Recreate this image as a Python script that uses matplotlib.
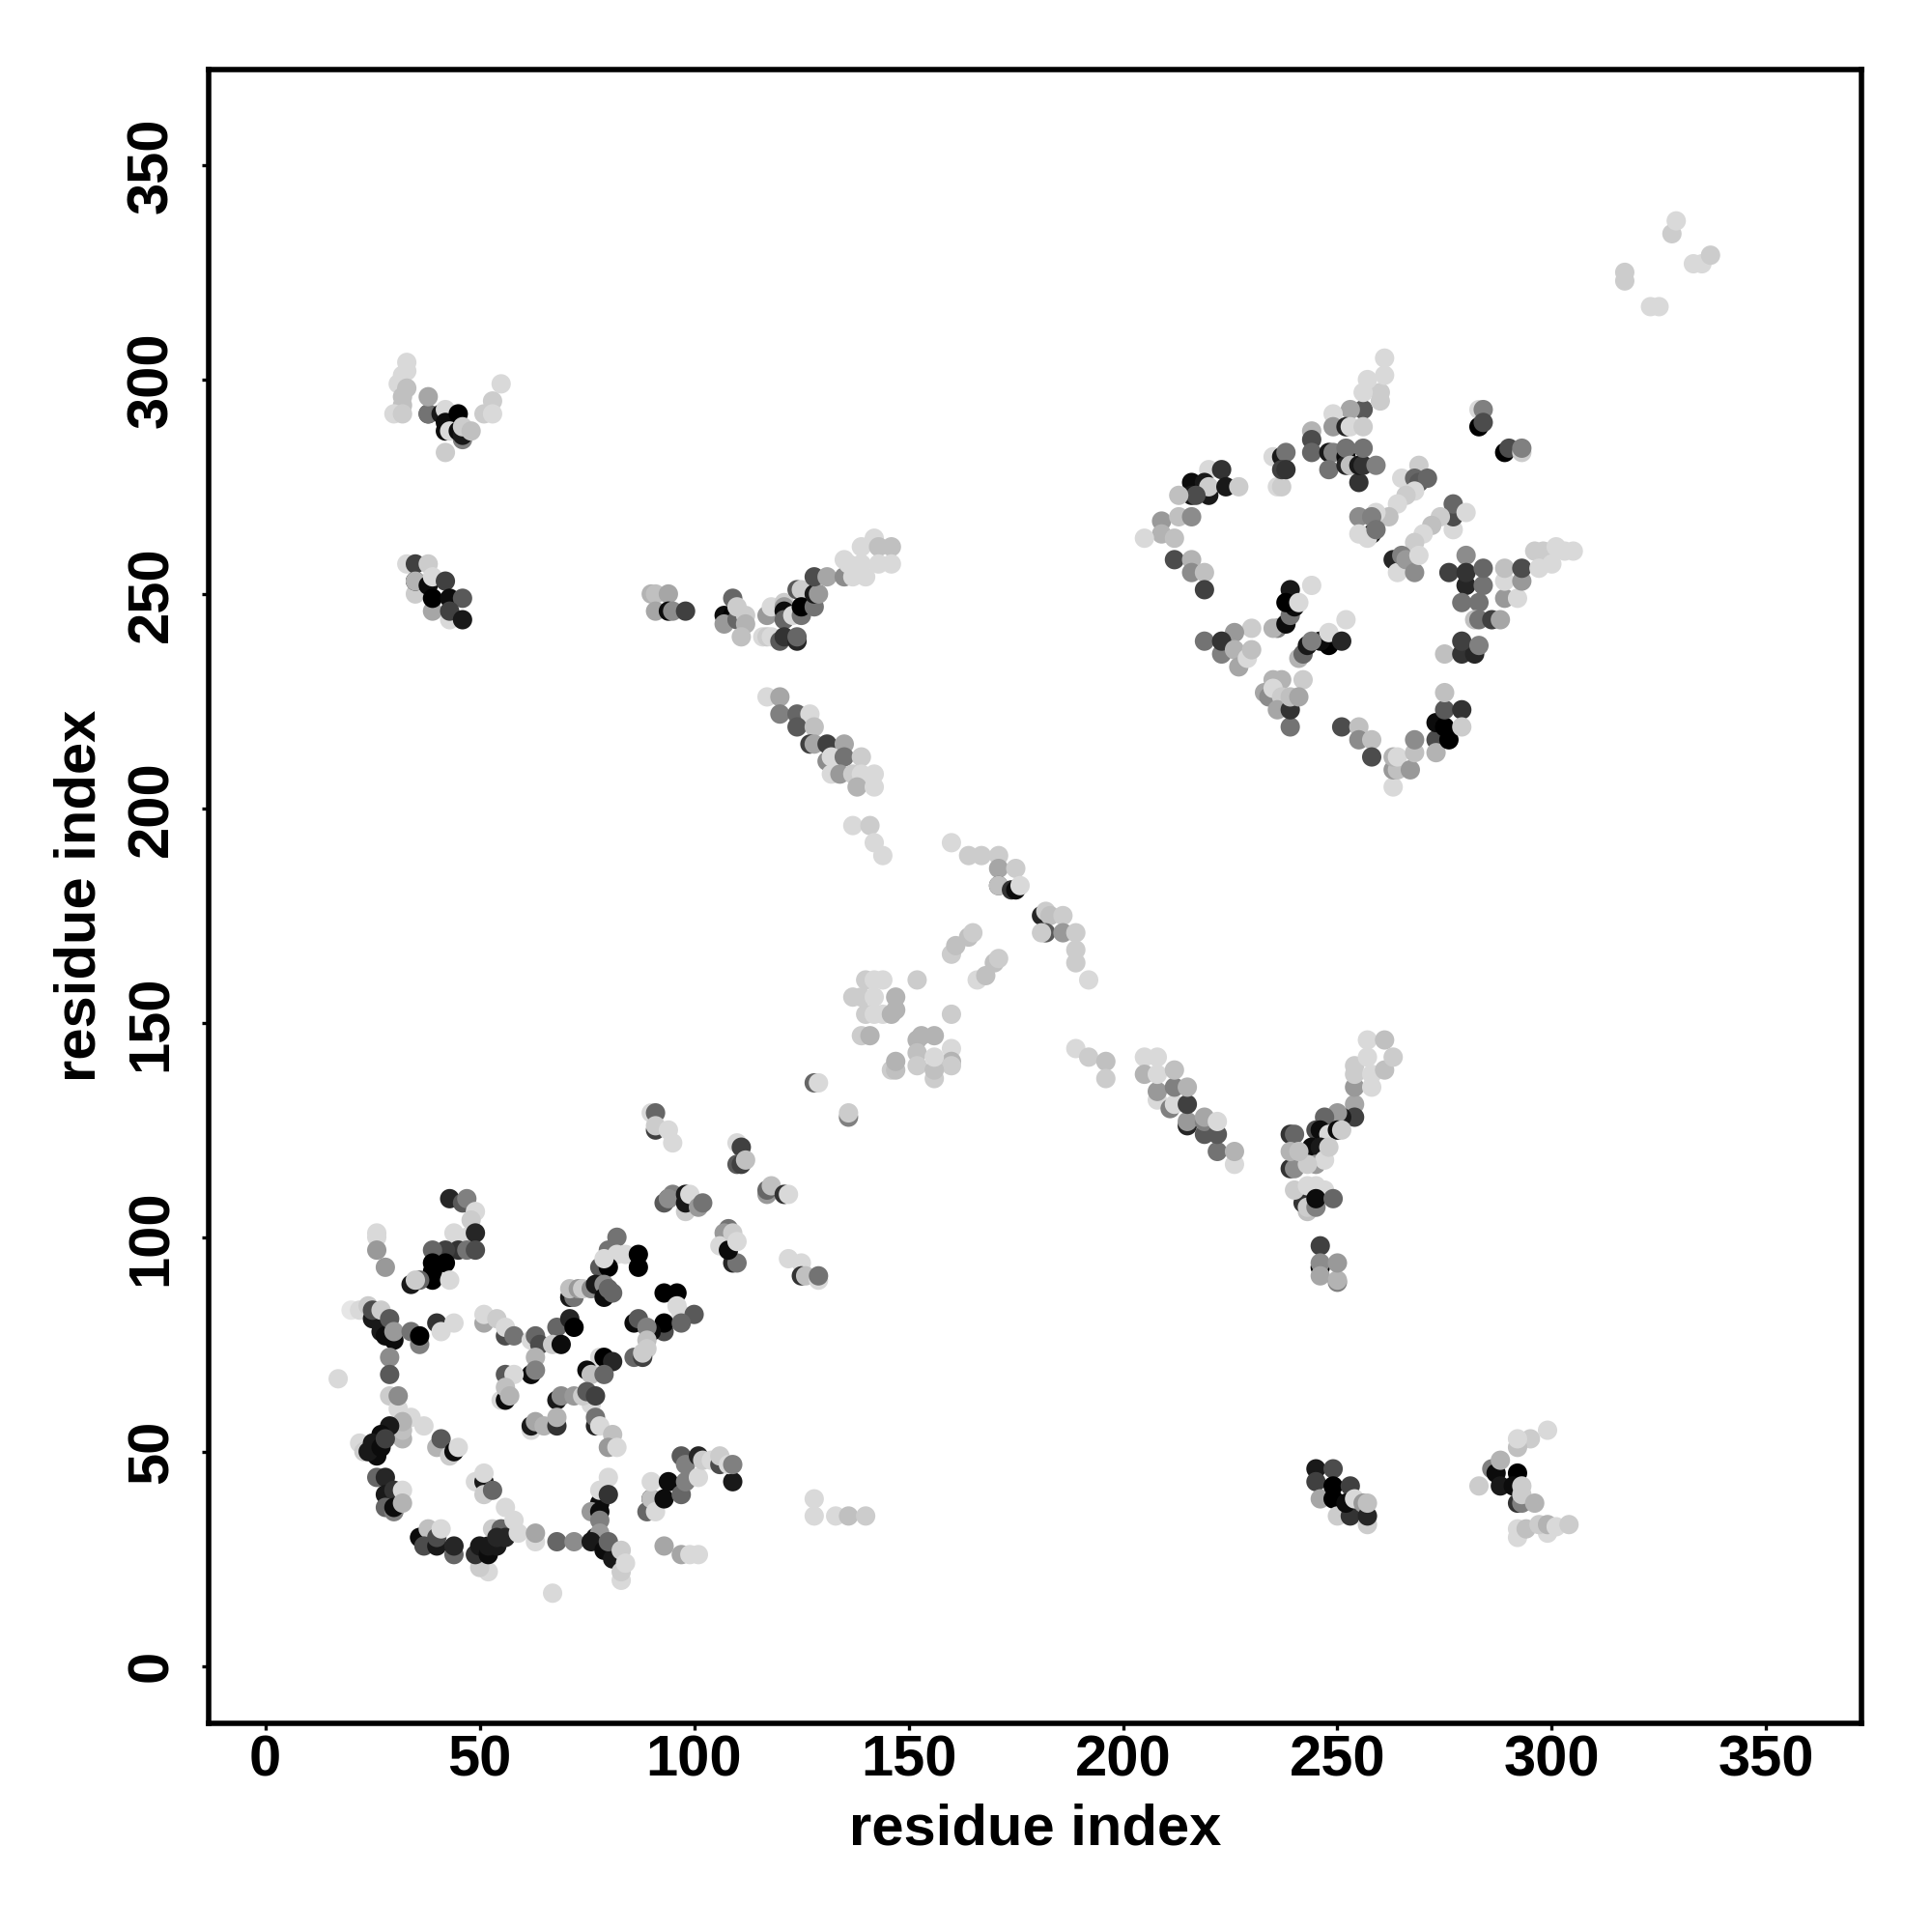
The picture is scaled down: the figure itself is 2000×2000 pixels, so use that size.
# -*- coding: utf-8 -*-
import matplotlib
matplotlib.use('Agg')
import matplotlib.pyplot as plt

plt.rcParams['font.family'] = ['Liberation Sans', 'DejaVu Sans']
plt.rcParams['font.weight'] = 'bold'

# contacts per region: (residue x, residue y, grey level)
bottom_left_a = [
    (43,109,.15),(46,108,.35),(47,109,.5),(49,106,.85),(48,104,.8),(44,101,.85),(47,100,.85),
    (49,101,.15),(45,97,.2),(42,97,.25),(47,97,.45),(49,97,.3),(39,97,.4),(39,92,0),(42,94,0),
    (39,94,0),(39,90,0),(34,89,.1),(36,90,.4),(35,90,.8),(43,90,.85),
    (26,101,.85),(26,100,.85),(26,97,.6),(28,93,.6),
]
bottom_left_b = [
    (20,83,.9),(22,83,.85),(24,84,.8),(25,81,.1),(25,83,.3),(27,83,.8),(27,78,.1),(28,77,.05),
    (30,76,.05),(29,81,.35),(30,78,.6),(36,75,.5),(34,78,.45),(36,77,0),(40,80,.2),(41,78,.85),
    (44,80,.85),(29,72,.55),(29,68,.35),(17,67,.85),(29,63,.8),(31,60,.85),(31,63,.55),
    (34,58,.85),(37,56,.85),(32,53,.7),(32,55,.75),(32,57,.7),(22,52,.85),(23,50,.8),
    (29,56,.1),(27,54,.05),(25,52,.1),(26,49,.05),(24,50,.1),(27,51,.05),(28,53,.25),
    (40,51,.7),(43,49,.8),(41,53,.35),(44,50,.05),(45,51,.85),
]
bottom_left_c = [
    (26,44,.4),(28,44,.15),(28,40,.1),(30,41,.2),(32,41,.85),(28,37,.4),(30,36,.5),(30,37,.05),
    (32,38,.7),(36,30,.45),(36,30,.05),(38,32,.75),(37,28,.3),(40,28,.1),(40,30,.3),(41,32,.85),
    (44,26,.4),(44,28,.15),
    (52,22,.85),(50,23,.8),(49,26,.2),(50,28,.1),(52,26,.05),(52,28,.1),(54,28,.1),(53,32,.8),
    (55,32,.4),(54,30,.15),(56,30,.15),(56,37,.85),(58,34,.85),(59,31,.85),(63,29,.85),
    (63,31,.65),(68,29,.4),(72,29,.55),(67,17,.85),
    (49,43,.85),(51,43,.1),(51,45,.85),(51,40,.8),(53,41,.4),
    (80,44,.85),(78,38,.05),(78,41,.85),(80,40,.2),(76,36,.6),(78,36,.05),(78,34,.5),(77,30,.1),
    (78,31,.6),(76,29,.1),(79,27,.05),(81,25,.1),(80,29,.4),(83,20,.85),(83,22,.8),(83,27,.8),
    (84,24,.85),(93,28,.65),(97,26,.65),(99,26,.85),(101,26,.85),
]
bottom_left_d = [
    (89,36,.4),(90,39,.05),(90,39,.75),(91,36,.85),(90,43,.85),(94,43,.05),(93,39,.05),
    (97,40,.4),(98,43,.5),(97,49,.35),(98,47,.5),(101,49,.15),(101,44,.85),(102,48,.8),
    (104,48,.85),(106,47,.3),(106,49,.8),(109,43,.1),(108,47,.85),(109,47,.5),
    (51,80,.65),(51,82,.85),(54,81,.8),(56,77,.3),(56,79,.85),(58,77,.45),(62,76,.85),(63,77,.4),
    (64,75,.3),(63,72,.7),(62,68,.05),(63,69,.5),(56,68,.35),(58,68,.85),(55,62,.85),(56,62,.05),
    (56,65,.75),(57,63,.7),(68,79,.4),(71,81,.15),(72,79,0),(67,75,.8),(69,75,.05),
    (78,72,.85),(79,72,0),(81,71,.15),(75,69,.05),(76,68,.75),(79,68,.4),
    (68,62,.1),(69,63,.55),(72,63,.6),(76,61,.85),(74,63,.8),(75,64,.35),(77,63,.25),
    (77,56,.15),(77,58,.45),(78,56,.85),(81,54,.75),(80,51,.6),(82,51,.85),
    (62,55,.85),(62,56,.1),(63,57,.65),(65,56,.7),(68,56,.2),(68,58,.7),
]
bottom_left_e = [
    (82,100,.45),(80,97,.45),(82,96,.85),(84,96,.85),(87,96,0),(87,93,0),(78,93,.35),(80,93,0),
    (79,95,.85),(71,86,.1),(72,86,.45),(71,88,.75),(73,88,.6),(74,88,.8),(76,88,.55),(77,89,.1),
    (79,89,.55),(79,86,.05),(80,88,.4),(81,87,.4),
    (93,87,0),(96,87,0),(96,84,.85),(97,82,.85),(100,82,.35),(93,78,.3),(93,80,0),(97,80,.4),
    (86,80,.05),(87,81,.35),(90,78,.05),(89,79,.5),(89,76,.75),(89,74,.8),(86,72,.4),(88,72,.25),
    (88,73,.8),
    (94,109,.3),(95,110,.5),(93,108,.35),(94,109,.55),(98,106,.8),(98,108,.1),(98,110,.1),
    (99,110,.85),(101,107,.6),(102,108,.45),
    (90,129,.85),(91,129,.4),(91,125,.25),(91,126,.8),(94,125,.85),(95,122,.85),
    (110,122,.85),(111,121,.25),(110,117,.35),(111,117,.25),(112,118,.75),
    (108,102,.45),(107,101,.6),(106,98,.85),(109,94,.15),(110,94,.45),(108,97,.05),(109,101,.8),
    (110,99,.85),(117,110,.6),(117,111,.4),(118,112,.75),(121,110,.2),(122,110,.85),
    (122,95,.85),(125,94,.85),(125,91,.2),(126,91,.75),(129,90,.85),(129,91,.45),
    (128,39,.85),(128,35,.85),(133,35,.85),(136,35,.75),(140,35,.8),
]
top_left = [
    (33,304,.85),(33,302,.85),(31,299,.85),(32,301,.85),(33,298,.75),(32,296,.75),(32,294,.75),
    (30,292,.85),(32,292,.8),(38,292,.25),(38,292,.45),(38,296,.65),(41,292,.1),(42,293,.85),
    (42,290,.05),(45,292,0),(42,288,.05),(43,288,.85),(46,286,.5),(45,288,.05),(46,287,.1),
    (46,289,.8),(48,288,.75),(42,283,.8),(55,299,.85),(53,295,.8),(51,292,.8),(53,292,.85),
    (33,257,.85),(35,257,.25),(38,257,.8),(35,250,.8),(35,253,.05),(35,253,.7),(38,252,.05),
    (39,254,.85),(42,253,.25),(39,246,.65),(39,249,0),(43,249,.05),(46,249,.35),(43,244,.85),
    (43,246,.25),(46,244,.1),
    (90,250,.7),(91,250,.75),(94,250,.65),(91,246,.65),(94,246,.05),(95,246,.55),(98,246,.25),
]
mid_upper = [
    (109,249,.4),(107,245,.05),(109,245,0),(107,243,.6),(110,244,.4),(110,247,.8),(112,245,.8),
    (112,243,.7),(111,240,.75),
    (117,245,.6),(118,247,.85),(116,240,.85),(117,240,.8),(118,240,.85),(121,248,.8),(121,247,.6),
    (121,246,.05),(121,244,.4),(120,239,.35),(121,240,.2),(124,239,.15),(124,240,.4),
    (123,245,.85),(125,245,.45),(124,251,.35),(125,251,.8),(125,247,0),(128,247,.45),(128,250,.1),
    (129,250,.6),(128,254,.3),(131,254,.65),(135,254,.55),(135,258,.85),(136,257,.85),(137,254,.85),
    (139,261,.85),(140,254,.85),(139,257,.85),(142,263,.85),(143,261,.75),(146,261,.75),
    (143,257,.85),(146,257,.85),
    (117,226,.85),(120,226,.65),(120,222,.5),(124,222,.4),(127,222,.85),(124,219,.35),(128,219,.75),
    (127,215,.25),(128,215,.65),(131,215,.25),(135,215,.65),(131,211,.55),(132,212,.85),(135,212,.45),
    (139,212,.8),(132,208,.85),(134,208,.6),(137,208,.8),(139,208,.85),(142,208,.85),(138,205,.7),
    (142,205,.85),(137,196,.85),(141,196,.8),(142,192,.85),(144,189,.85),
]
center = [
    (160,192,.85),(164,189,.8),(167,189,.8),(171,189,.8),(171,186,.65),(175,186,.8),(171,182,.35),
    (171,182,.75),(174,181,.2),(175,181,.05),(176,182,.85),
    (181,175,.15),(182,176,.8),(183,175,.75),(186,175,.8),(182,171,.35),(181,171,.8),(186,171,.6),
    (189,171,.8),(189,167,.8),(189,164,.8),(192,160,.85),
    (164,170,.75),(165,171,.8),(160,166,.8),(161,168,.75),(170,164,.75),(171,165,.8),(166,160,.85),
    (168,161,.75),(140,160,.8),(142,160,.85),(144,160,.85),(152,160,.8),(137,156,.8),(139,156,.8),
    (142,156,.85),(147,156,.7),(140,152,.8),(142,152,.85),(144,152,.85),(146,152,.7),(147,153,.7),
    (160,152,.8),(139,147,.8),(141,147,.7),(152,146,.7),(153,147,.7),(156,147,.7),(152,143,.75),
    (152,140,.8),(160,144,.85),(160,141,.7),(160,140,.8),(156,137,.8),(156,139,.75),(156,142,.85),
    (146,139,.8),(147,139,.75),(147,141,.7),(128,136,.4),(129,136,.85),(136,128,.5),(136,129,.8),
]
mid_lower = [
    (189,144,.85),(192,142,.8),(196,141,.75),(196,137,.8),
    (205,142,.85),(208,142,.85),(205,138,.7),(208,132,.85),(208,134,.6),(208,138,.85),
    (211,130,.5),(212,131,.85),(212,135,.5),(212,139,.75),(215,126,.15),(215,127,.6),(215,131,.25),
    (215,135,.7),(219,124,.35),(219,127,.5),(219,128,.65),(222,120,.45),(222,124,.35),(222,127,.85),
    (226,117,.85),(226,120,.7),
    (254,131,.65),(254,135,.6),(258,135,.85),(254,138,.8),(254,140,.8),(258,138,.85),(257,142,.85),
    (257,146,.85),(261,139,.75),(261,146,.75),(263,142,.8),
    (254,128,.25),(251,128,.1),(250,129,.6),(247,128,.4),(245,125,.3),(246,125,.05),(248,124,.85),
    (250,125,.05),(251,125,.8),(244,121,.05),(246,121,.1),(245,117,.6),(247,118,.85),(248,121,.8),
    (239,124,.2),(240,124,.4),(239,116,.2),(240,116,.55),(239,120,.7),(243,117,.8),(241,120,.75),
    (243,106,.75),(242,108,.2),(243,107,.8),(245,107,.5),(240,111,.8),(243,112,.85),(245,112,.85),
    (247,111,.85),(245,109,.05),(249,109,.4),
    (246,98,.25),(246,93,0),(246,94,.55),(246,91,.65),(250,89.5,.5),(250,90,.7),(250,94,.6),
]
bottom_right = [
    (245,46,.1),(249,46,.3),(245,43,.25),(246,39,.65),(249,42,0),(249,39,0),(253,42,.25),
    (250,35,.8),(253,35,.2),(252,38,.05),(254,39,.85),(257,33,.8),(256,38,.6),(257,35,.15),(257,38,.75),
    (299,55,.85),(295,53,.8),(292,51,.75),(292,53,.85),(283,42,.8),(286,46,.5),(287,45,.05),
    (288,42,.1),(288,48,.7),(292,45,0),(291,42,.05),(292,38,.2),(293,38,.5),(293,42,.8),(293,40,.8),
    (296,38,.7),(292,30,.85),(292,32,.85),(294,32,.75),(299,31,.85),(297,33,.8),(299,33,.7),
    (301,32.5,.85),(304,33,.8),
]
top_right_a = [
    (256,293,.35),(253,293,.65),(249,292,.85),(249,289,.6),(252,289,.15),(253,289,.85),(256,289,.8),
    (260,295,.8),(260,297,.8),(256,297,.85),(257,300,.85),(261,301,.85),(261,305,.85),
    (244,288,.7),(244,286,.3),(244,283,.4),(248,283,.1),(249,283,.5),(248,279,.45),(252,282,.05),
    (252,280,.15),(252,284,.45),(255,276,.2),(253,280,.75),(255,280,.1),(256,280,.2),(256,284,.45),
    (259,280,.5),
    (236,275,.85),(237,275,.8),(235,282,.85),(237,282,.1),(238,283,.45),(237,279,.25),(238,279,.2),
    (220,279,.85),(223,279,.2),(216,276,.05),(219,276,.1),(220,273,.1),(220,275,.8),(224,275,.1),
    (227,275,.8),(216,273,.1),(217,273,.3),(213,273,.75),(209,267,.6),(213,268,.75),(216,268,.55),
    (209,264,.7),(212,263,.75),(205,263,.85),(212,258,.3),(216,258,.7),(216,255,.55),(219,255,.75),
    (219,251,.25),
]
top_right_b = [
    (265,277,.85),(269,280,.8),(268,277,.4),(269,276,.35),(271,277,.4),(268,274,.85),(266,273,.8),
    (264,271,.85),(262,268,.75),(255,268,.55),(259,269,.85),(258,264,.1),(255,264,.85),(257,263,.85),
    (258,268,.5),(259,265,.45),
    (277,265,.85),(277,268,.3),(277,271,.4),(280,269,.85),(274,268,.8),(272,266,.75),(270,264,.85),
    (268,262,.8),(263,258,.15),(264,255,.85),(265,259,.5),(266,258,.6),(268,255,.55),(269,259,.85),
    (280,259,.55),(276,255,.25),(280,252,.15),(280,255,.2),(279,248,.45),(283,248,.45),(284,252,.45),
    (284,256,.4),(282,244,.75),(283,244,.45),(286,244,.25),(288,244,.65),
    (289,249,.6),(292,249,.85),(289,253,.85),(293,253,.6),(289,256,.75),(293,256,.3),
    (296,260,.8),(298,260,.8),(301,261,.85),(303,260,.85),(305,260,.85),(297,256,.85),(300,257,.85),
    (275,236,.75),(279,236,.2),(282,236,.15),(279,239,.25),(283,238,.5),
    (283,293,.85),(284,293,.5),(283,289,0),(284,290,.3),(289,283,0),(290,284,.3),(293,283,.8),(293,284,.5),
]
top_right_c = [
    (244,252,.85),(239,251,.1),(236,242,.5),(235,242,.7),(238,243,.05),(239,245,.45),(240,247,.05),
    (238,248,0),(241,248,.85),(230,242,.8),(226,241,.6),(219,239,.45),(223,236,.5),(223,239,.2),
    (226,237,.7),(227,233,.65),(229,235,.85),(230,237,.75),
    (252,244,.85),(248,238,0),(246,239,.05),(248,241,.85),(251,239,.15),(241,235,.7),(242,236,.4),
    (243,238,.1),(244,239,.5),(235,230,.7),(237,230,.7),(242,230,.8),
    (233,227,.65),(234,226,.55),(235,228,.85),(237,226,.8),(236,223,.65),(239,219,.45),(239,223,.2),
    (239,226,.75),(241,226,.65),
    (251,219,.3),(255,219,.75),(255,216,.55),(258,216,.75),(258,212,.3),
    (263,205,.85),(263,209,.6),(264,209,.75),(263,212,.7),(264,212,.85),(267,209,.6),(268,213,.75),
    (268,216,.55),(273,216,.3),(273,213,.7),(276,216,0),(273,220,.05),(275,219,0),(275,223,.35),
    (279,223,.2),(279,219,.8),(275,227,.75),
]
far_corner = [
    (317,323,.8),(317,325,.8),(323,317,.85),(325,317,.85),(328,334,.8),(329,337,.85),(333,327,.85),
    (335,327,.85),(337,329,.8),
]
regions = [bottom_left_a, bottom_left_b, bottom_left_c, bottom_left_d, bottom_left_e, top_left,
           mid_upper, center, mid_lower, bottom_right, top_right_a, top_right_b, top_right_c, far_corner]
ticks = [0, 50, 100, 150, 200, 250, 300, 350]

fig = plt.figure(figsize=(10, 10), dpi=200)
ax = fig.add_axes([0.108, 0.108, 0.8555, 0.85625])

for region in regions:
    xs = [p[0] for p in region]
    ys = [p[1] for p in region]
    greys = [p[2] for p in region]
    ax.scatter(xs, ys, c=greys, cmap='gray', vmin=0, vmax=1, s=52, linewidths=0, zorder=3)

ax.set_xlim(-13.2, 372.2)
ax.set_ylim(-13.35, 372.4)
ax.set_xticks(ticks)
ax.set_yticks(ticks)
ax.tick_params(length=2.6, width=1.2, labelsize=21.5)
ax.tick_params(axis='x', pad=1.6)
ax.tick_params(axis='y', pad=8.5)
for label in ax.get_yticklabels():
    label.set_rotation(90)
    label.set_va('center')
for side in ax.spines.values():
    side.set_linewidth(2.0)
ax.set_xlabel('residue index', fontsize=21.5, fontweight='bold', labelpad=5.6)
ax.set_ylabel('residue index', fontsize=21.5, fontweight='bold', labelpad=7)

fig.savefig('out.png', dpi=200, facecolor='white')
